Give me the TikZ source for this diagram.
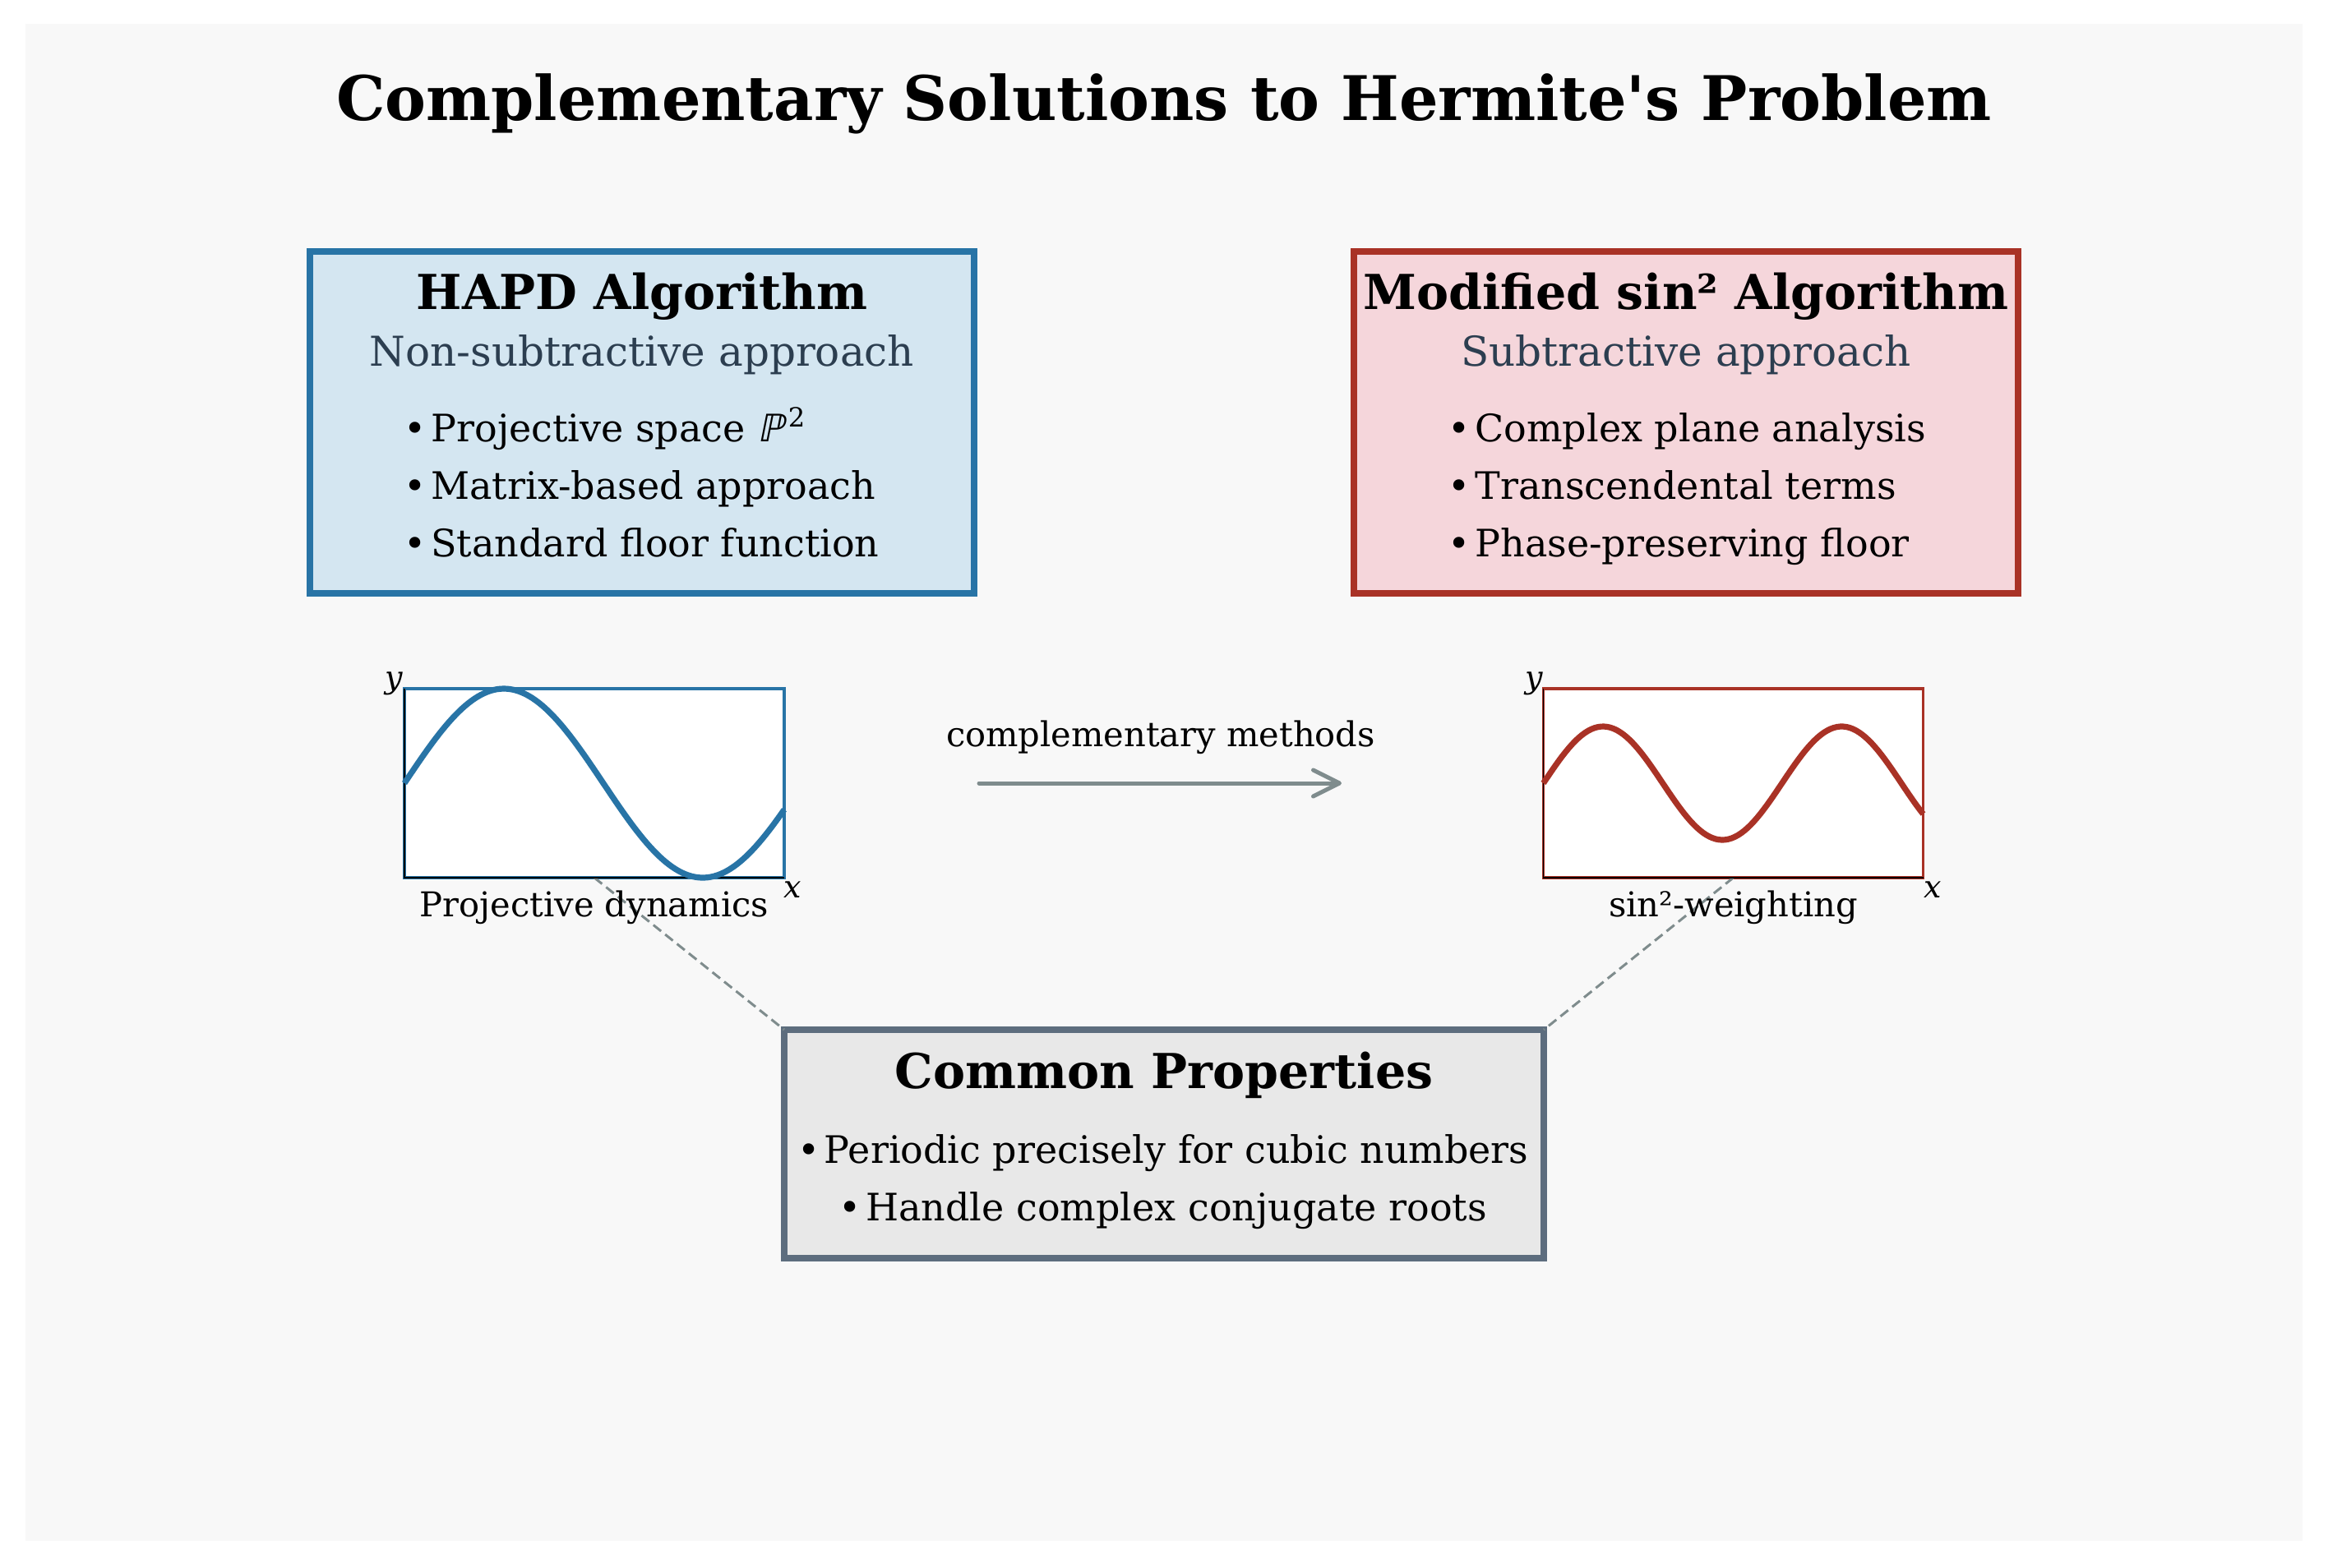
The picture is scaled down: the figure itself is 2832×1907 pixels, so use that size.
\documentclass[tikz,border=0pt]{standalone}
\usepackage{fontspec}
\setmainfont{DejaVu Serif}[Ligatures=TeXOff]
\newfontfamily\dvsansit{DejaVu Sans}[FakeSlant=0.2]
\usetikzlibrary{arrows.meta}
\definecolor{bgc}{HTML}{F8F8F8}
\definecolor{bluec}{HTML}{2874A6}
\definecolor{bluefill}{HTML}{D4E6F1}
\definecolor{redc}{HTML}{A93226}
\definecolor{redfill}{HTML}{F5D6DB}
\definecolor{grayc}{HTML}{5D6D7E}
\definecolor{grayfill}{HTML}{E8E8E8}
\definecolor{subc}{HTML}{2C3E50}
\definecolor{connc}{HTML}{7F8C8D}
\newcommand{\bu}{\makebox[7.6pt][l]{\hspace{-0.6pt}•}}
\begin{document}
\begin{tikzpicture}[x=0.25pt,y=-0.25pt,
  txt/.style={inner sep=0pt, outer sep=0pt, anchor=base},
  titlefont/.style={txt, font=\bfseries\fontsize{18.7}{23}\selectfont},
  boxtitle/.style={txt, font=\bfseries\fontsize{14.65}{17}\selectfont},
  subtitle/.style={txt, text=subc, font=\fontsize{12.5}{14}\selectfont},
  bul/.style={txt, anchor=base west, font=\fontsize{11.5}{13}\selectfont},
  cbul/.style={txt, font=\fontsize{11.5}{13}\selectfont},
  lab/.style={txt, font=\fontsize{10.4}{12}\selectfont},
  axlab/.style={txt, font=\itshape\fontsize{9.5}{11}\selectfont},
  bigbox/.style={draw, line width=2pt, inner sep=0pt, outer sep=0pt, minimum width=202pt, minimum height=104pt},
  plotframe/.style={draw, fill=white, line width=0.9pt, inner sep=0pt, outer sep=0pt, minimum width=115.5pt, minimum height=57.5pt},
  curve/.style={line width=1.8pt},
  conn/.style={draw=connc, line width=0.75pt, dash pattern=on 3pt off 1.6pt},
  arr/.style={draw=connc, line width=1.25pt, line cap=round, -{Straight Barb[length=8pt, width=8pt, line cap=round, line join=round]}}
]
\useasboundingbox (0,0) rectangle (2832,1907);
\fill[white] (0,0) rectangle (2832,1907);
\fill[bgc] (31,29) rectangle (2801,1875);

% title
\node[titlefont] (title) at (1416,146) {Complementary Solutions to Hermite's Problem};

% HAPD box
\node[bigbox, draw=bluec, fill=bluefill] (hapd) at (781,514) {};
\node[boxtitle] (hapdt) at (781,376) {HAPD Algorithm};
\node[subtitle] (hapds) at (781,445) {Non-subtractive approach};
\node[bul] (hb1) at (494,537) {\bu Projective space {\dvsansit ℙ}\hspace{1.3pt}\textsuperscript{2}};
\node[bul] (hb2) at (494,607) {\bu Matrix-based approach};
\node[bul] (hb3) at (494,677) {\bu Standard floor function};

% sin^2 box
\node[bigbox, draw=redc, fill=redfill] (sinb) at (2051,514) {};
\node[boxtitle] (sint) at (2051,376) {Modified sin² Algorithm};
\node[subtitle] (sins) at (2051,445) {Subtractive approach};
\node[bul] (sb1) at (1764,537) {\bu Complex plane analysis};
\node[bul] (sb2) at (1764,607) {\bu Transcendental terms};
\node[bul] (sb3) at (1764,677) {\bu Phase-preserving floor};

% common box
\node[draw=grayc, fill=grayfill, line width=2pt, inner sep=0pt, outer sep=0pt, minimum width=231pt, minimum height=69.5pt] (common) at (1416,1392) {};

% plots
\node[plotframe, draw=bluec] (p1) at (723,953) {};
\node[plotframe, draw=redc] (p2) at (2108.5,953) {};

% dashed connectors
\draw[conn] (p1.south) -- (common.north west);
\draw[conn] (p2.south) -- (common.north east);

\node[boxtitle] (commont) at (1416,1324) {Common Properties};
\node[cbul] (cb1) at (1416,1415) {\bu Periodic precisely for cubic numbers};
\node[cbul] (cb2) at (1416,1485) {\bu Handle complex conjugate roots};

% blue plot
\draw[black, line width=0.4pt] (p1.north west) -- (p1.south west) -- (p1.south east);
\draw[bluec, curve] plot[domain=0:6, samples=120, variable=\t] ({492+77*\t},{953-115*sin(\t r)});
\node[axlab] (p1y) at (479,837) {y};
\node[axlab] (p1x) at (964,1092) {x};
\node[lab] (p1l) at (723,1115) {Projective dynamics};

% red plot
\draw[black, line width=0.4pt] (p2.north west) -- (p2.south west) -- (p2.south east);
\draw[redc, curve] plot[domain=0:6, samples=120, variable=\t] ({1877.5+77*\t},{953-69*sin(5*\t/3 r)});
\node[axlab] (p2y) at (1866,837) {y};
\node[axlab] (p2x) at (2351,1092) {x};
\node[lab] (p2l) at (2108.5,1115) {sin²-weighting};

% arrow
\coordinate (a1) at (1191,953);
\coordinate (a2) at (1632,953);
\draw[arr] (a1) -- (a2);
\node[lab] (arrl) at (1412,908) {complementary methods};
\end{tikzpicture}
\end{document}
